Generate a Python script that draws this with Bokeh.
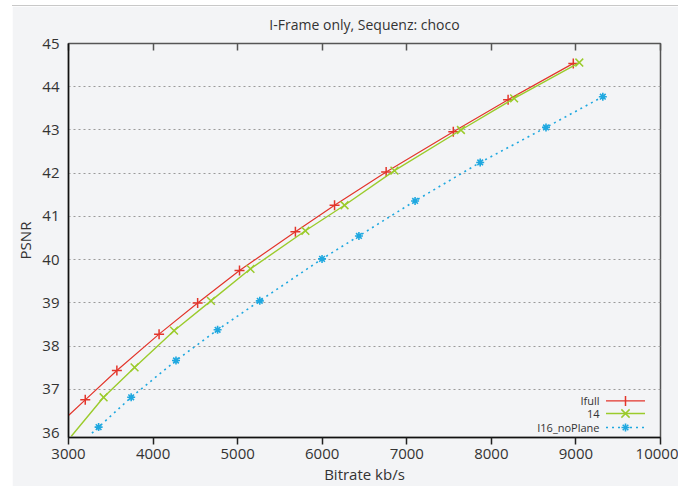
from bokeh.plotting import figure
from bokeh.models import (LinearAxis, Range1d, FixedTicker, Label, Arrow,
                          CustomLabelingPolicy)
from bokeh.embed import file_html
from bokeh.resources import INLINE

FONT = "Open Sans"

# ---- data ----
ifull_rate = [3198, 3572, 4071, 4527, 5022, 5683, 6146, 6756, 7550, 8198, 8969]
ifull_psnr = [36.76, 37.44, 38.28, 39.00, 39.75, 40.65, 41.26, 42.03, 42.96, 43.70, 44.54]
i14_rate = [3415, 3781, 4248, 4684, 5152, 5801, 6264, 6854, 7640, 8269, 9040]
i14_psnr = [36.82, 37.51, 38.36, 39.05, 39.79, 40.67, 41.26, 42.06, 43.00, 43.73, 44.56]
i16_rate = [3356, 3741, 4271, 4763, 5262, 5998, 6434, 7098, 7868, 8646, 9318]
i16_psnr = [36.13, 36.82, 37.67, 38.38, 39.05, 40.02, 40.55, 41.36, 42.25, 43.06, 43.77]

# where each fitted curve enters the plot frame
ifull_curve_start = (3000, 36.40)
i14_curve_start = (3033, 35.92)
i16_curve_start = (3277, 35.99)

title_text = "I-Frame only, Sequenz: choco"
series_names = ["Ifull", "14", "I16_noPlane"]
x_ticks = [3000, 4000, 5000, 6000, 7000, 8000, 9000, 10000]
y_ticks = [36, 37, 38, 39, 40, 41, 42, 43, 44, 45]
grid_ticks = [37, 38, 39, 40, 41, 42, 43, 44]

RED = "#e3352b"
GREEN = "#9bcb2c"
CYAN = "#1fa8e0"
BG = "#f3f4f6"
TXT = "#333333"

p = figure(width=666, height=480, output_backend="svg", toolbar_location=None,
           x_range=Range1d(3000, 10000), y_range=Range1d(35.89, 45),
           min_border_left=55, min_border_right=18, min_border_top=37, min_border_bottom=49,
           background_fill_color=BG, border_fill_color=BG)
p.margin = (6, 0, 0, 12)
p.styles = {"box-shadow": "0 -1px 0 0 #c8c8c8"}

p.title.text = title_text
p.title.align = "center"
p.title.vertical_align = "top"
p.title.text_font = FONT
p.title.text_font_size = "14px"
p.title.text_font_style = "normal"
p.title.text_color = TXT
p.title.standoff = 16

p.outline_line_color = "#555555"
p.outline_line_width = 1.5

# axes
xa = p.xaxis[0]
xa.ticker = FixedTicker(ticks=x_ticks)
xa.axis_label = "Bitrate kb/s"
xa.axis_line_color = "#111111"
xa.axis_line_width = 1.5
xa.major_tick_out = 7
xa.major_tick_in = 0
xa.major_tick_line_color = "#222222"
xa.major_tick_line_width = 1.5
xa.minor_tick_line_color = None
xa.major_label_standoff = 4
xa.axis_label_standoff = 2

ya = p.yaxis[0]
ya.ticker = FixedTicker(ticks=y_ticks)
ya.axis_label = "PSNR"
ya.axis_line_color = "#111111"
ya.axis_line_width = 1.5
ya.major_tick_out = 0
ya.major_tick_in = 0
ya.minor_tick_line_color = None
ya.major_label_standoff = 9
ya.axis_label_standoff = 4

for ax in (xa, ya):
    ax.major_label_text_font = FONT
    ax.major_label_text_font_size = "15px"
    ax.major_label_text_color = TXT
    ax.axis_label_text_font = FONT
    ax.axis_label_text_font_size = "15px"
    ax.axis_label_text_font_style = "normal"
    ax.axis_label_text_color = TXT

# top frame ticks (no labels)
top = LinearAxis(ticker=FixedTicker(ticks=x_ticks), axis_line_color=None,
                 major_tick_in=7, major_tick_out=0, major_tick_line_color="#555555",
                 major_tick_line_width=1.5, minor_tick_line_color=None,
                 major_label_text_font_size="0px", major_label_standoff=0,
                 major_label_policy=CustomLabelingPolicy(
                     code="for (const i of indices) indices.unset(i)"))
p.add_layout(top, "above")

p.xgrid.grid_line_color = None
p.ygrid.ticker = FixedTicker(ticks=grid_ticks)
p.ygrid.grid_line_color = "#9a9a9a"
p.ygrid.grid_line_dash = "2 3"
p.ygrid.grid_line_width = 1

# series
styles = [
    dict(color=RED, lw=1.2, dash="solid", marker="cross", size=10, mlw=1.5),
    dict(color=GREEN, lw=1.4, dash="solid", marker="x", size=11, mlw=1.5),
    dict(color=CYAN, lw=1.6, dash="2 4", marker="asterisk", size=8, mlw=1.6),
]
series = [
    (ifull_curve_start, ifull_rate, ifull_psnr),
    (i14_curve_start, i14_rate, i14_psnr),
    (i16_curve_start, i16_rate, i16_psnr),
]
for (start, xs, ys), st in zip(series, styles):
    p.line([start[0]] + xs, [start[1]] + ys, line_color=st["color"],
           line_width=st["lw"], line_dash=st["dash"])
    p.scatter(xs, ys, marker=st["marker"], size=st["size"],
              line_color=st["color"], line_width=st["mlw"])

# legend (text right-aligned, sample on its right), frame-relative pixels
leg_rows = [36.6, 24.0, 10.0]
leg_text_right = 531
leg_x0, leg_x1 = 537.5, 576.5
leg_cx = (leg_x0 + leg_x1) / 2


def seg(x0, y0, x1, y1, color, width, dash="solid"):
    p.add_layout(Arrow(end=None, x_start=x0, y_start=y0, x_end=x1, y_end=y1,
                       start_units="screen", end_units="screen",
                       line_color=color, line_width=width, line_dash=dash))


for name, yrow, st in zip(series_names, leg_rows, styles):
    p.add_layout(Label(x=leg_text_right, y=yrow, x_units="screen", y_units="screen",
                       text=name, text_align="right", text_baseline="middle",
                       text_font=FONT, text_font_size="11px", text_color=TXT))
    seg(leg_x0, yrow, leg_x1, yrow, st["color"], st["lw"], st["dash"])
    h = st["size"] / 2
    if st["marker"] == "cross":
        seg(leg_cx, yrow - h, leg_cx, yrow + h, st["color"], st["mlw"])
    elif st["marker"] == "x":
        d = h * 0.75
        seg(leg_cx - d, yrow - d, leg_cx + d, yrow + d, st["color"], st["mlw"])
        seg(leg_cx - d, yrow + d, leg_cx + d, yrow - d, st["color"], st["mlw"])
    else:
        d = h * 0.7
        seg(leg_cx - h, yrow, leg_cx + h, yrow, st["color"], st["mlw"])
        seg(leg_cx, yrow - h, leg_cx, yrow + h, st["color"], st["mlw"])
        seg(leg_cx - d, yrow - d, leg_cx + d, yrow + d, st["color"], st["mlw"])
        seg(leg_cx - d, yrow + d, leg_cx + d, yrow - d, st["color"], st["mlw"])

open("out.html", "w").write(file_html(p, INLINE))
